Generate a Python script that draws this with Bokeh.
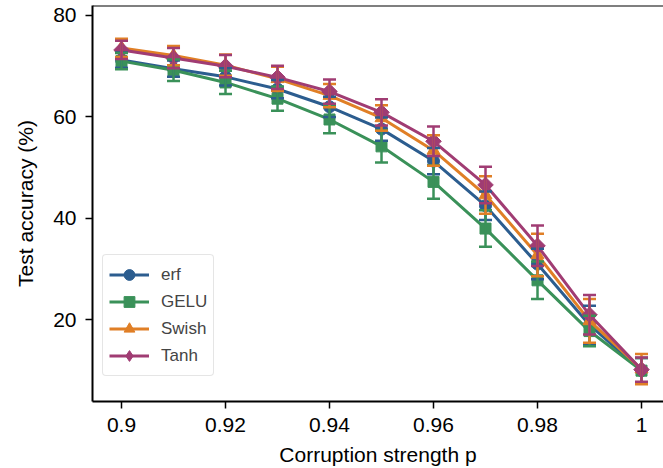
import numpy as np
from bokeh.plotting import figure
from bokeh.models import (ColumnDataSource, Whisker, TeeHead, FixedTicker, Legend,
                          LegendItem, Span)
from bokeh.embed import file_html
from bokeh.resources import INLINE

p_vals = [0.90, 0.91, 0.92, 0.93, 0.94, 0.95, 0.96, 0.97, 0.98, 0.99, 1.00]

erf_mean = [71.2, 69.5, 67.9, 65.5, 62.0, 57.6, 51.3, 42.5, 31.0, 19.0, 10.0]
erf_err = [1.5, 1.6, 1.7, 1.8, 2.0, 2.3, 2.6, 2.8, 3.0, 3.8, 2.5]
gelu_mean = [71.0, 69.2, 66.8, 63.6, 59.5, 54.2, 47.2, 38.0, 27.8, 17.8, 10.0]
gelu_err = [1.6, 2.1, 2.3, 2.4, 2.7, 3.2, 3.3, 3.6, 3.7, 3.0, 2.5]
swish_mean = [73.6, 72.1, 70.2, 67.5, 64.2, 59.8, 53.4, 44.6, 32.8, 19.8, 10.3]
swish_err = [1.8, 1.9, 2.1, 2.4, 2.3, 2.5, 3.0, 3.7, 4.2, 4.3, 3.0]
tanh_mean = [73.2, 71.6, 70.0, 67.8, 65.0, 60.9, 55.2, 46.6, 34.6, 21.0, 10.2]
tanh_err = [1.8, 2.0, 2.2, 2.3, 2.4, 2.6, 2.9, 3.6, 4.0, 3.9, 2.4]

series_names = ["erf", "GELU", "Swish", "Tanh"]
series_means = [erf_mean, gelu_mean, swish_mean, tanh_mean]
series_errs = [erf_err, gelu_err, swish_err, tanh_err]
series_colors = ["#2c5d8f", "#3a9159", "#e07f26", "#a03c73"]
series_markers = ["circle", "square", "triangle", "square"]
legend_markers = ["circle", "square", "triangle", "diamond"]
series_angles = [0.0, 0.0, 0.0, np.pi / 4]
series_sizes = [12, 11, 13, 11]

x_ticks = [0.9, 0.92, 0.94, 0.96, 0.98, 1.0]
x_tick_labels = ["0.9", "0.92", "0.94", "0.96", "0.98", "1"]
y_ticks = [20, 40, 60, 80]

FONT = "Liberation Sans"
Y_TOP = 81.96

p = figure(width=663, height=468, output_backend="svg", toolbar_location=None,
           x_range=(0.89442, 1.00423), y_range=(3.92, Y_TOP),
           min_border_left=92, min_border_right=0, min_border_top=5,
           min_border_bottom=65)
p.outline_line_color = None
p.xgrid.visible = False
p.ygrid.visible = False
p.background_fill_color = "white"

for ax in (p.xaxis[0], p.yaxis[0]):
    ax.axis_line_width = 2
    ax.axis_line_color = "black"
    ax.major_tick_line_width = 1.5
    ax.major_tick_out = 7
    ax.major_tick_in = 0
    ax.minor_tick_out = 0
    ax.minor_tick_in = 0
    ax.major_label_text_font = FONT
    ax.major_label_text_font_size = "21px"
    ax.major_label_text_color = "black"
    ax.axis_label_text_font = FONT
    ax.axis_label_text_font_size = "21px"
    ax.axis_label_text_font_style = "normal"
    ax.axis_label_text_color = "black"

p.xaxis.ticker = FixedTicker(ticks=x_ticks)
p.xaxis.major_label_overrides = {t: l for t, l in zip(x_ticks, x_tick_labels)}
p.yaxis.ticker = FixedTicker(ticks=y_ticks)
p.xaxis.major_label_standoff = 9
p.yaxis.major_label_standoff = 9
p.xaxis.axis_label = "Corruption strength p"
p.yaxis.axis_label = "Test accuracy (%)"
p.xaxis.axis_label_standoff = 8
p.yaxis.axis_label_standoff = 13

top = Span(location=Y_TOP, dimension="width", line_color="black", line_width=2)
p.add_layout(top)

items = []
for name, m, e, c, mk, lmk, ang, sz in zip(series_names, series_means, series_errs,
                                           series_colors, series_markers,
                                           legend_markers, series_angles,
                                           series_sizes):
    m = np.array(m)
    e = np.array(e)
    src = ColumnDataSource(dict(x=p_vals, y=m, upper=m + e, lower=m - e))
    w = Whisker(base="x", upper="upper", lower="lower", source=src,
                line_color=c, line_width=2.5, level="glyph",
                upper_head=TeeHead(size=13, line_color=c, line_width=2.5),
                lower_head=TeeHead(size=13, line_color=c, line_width=2.5))
    p.add_layout(w)
    ln = p.line("x", "y", source=src, line_color=c, line_width=3)
    if lmk != mk:
        # legend-shape marker drawn beneath the (larger) rotated square
        leg_marker = p.scatter("x", "y", source=src, marker=lmk, size=sz,
                               fill_color=c, line_color=c, line_width=1)
    sc = p.scatter("x", "y", source=src, marker=mk, size=sz, angle=ang,
                   fill_color=c, line_color=c, line_width=1)
    if lmk == mk:
        leg_marker = sc
    items.append(LegendItem(label=name, renderers=[ln, leg_marker]))

legend = Legend(items=items, location=(10, 25), margin=0, padding=6,
                spacing=0, glyph_width=40, glyph_height=27, label_height=27,
                label_standoff=12, label_text_font=FONT,
                label_text_font_size="17px", border_line_color="#cccccc",
                border_line_width=1.5, border_radius=4,
                background_fill_color="white", background_fill_alpha=0.8)
p.add_layout(legend, "center")

open("out.html", "w").write(file_html(p, INLINE))
